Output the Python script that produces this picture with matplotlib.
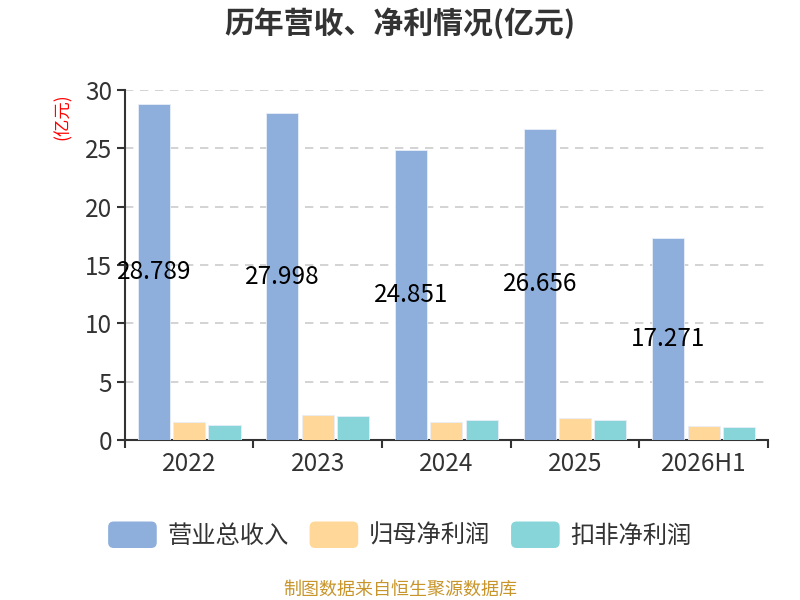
import numpy as np
import matplotlib
matplotlib.use("Agg")
import matplotlib.pyplot as plt
from matplotlib.patches import FancyBboxPatch, Rectangle
from matplotlib.legend_handler import HandlerPatch

plt.rcParams['font.family'] = ['Noto Sans CJK SC', 'DejaVu Sans']

years = ["2022", "2023", "2024", "2025", "2026H1"]
revenue = [28.789, 27.998, 24.851, 26.656, 17.271]
net_profit = [1.57, 2.14, 1.54, 1.89, 1.20]
deducted_profit = [1.29, 2.06, 1.69, 1.71, 1.14]
series_names = ["营业总收入", "归母净利润", "扣非净利润"]
colors = ["#8eaedb", "#ffd899", "#87d5d9"]


class RoundHandler(HandlerPatch):
    def create_artists(self, legend, orig_handle, xdescent, ydescent,
                       width, height, fontsize, trans):
        p = FancyBboxPatch((-xdescent, -ydescent), width, height,
                           boxstyle="round,pad=0,rounding_size=4",
                           facecolor=orig_handle.get_facecolor(),
                           edgecolor="none", transform=trans)
        return [p]


fig = plt.figure(figsize=(8, 6), dpi=100)
ax = fig.add_axes([0.156, 0.2667, 0.804, 0.5833])

x = np.arange(len(years))
w = 0.25
off = 0.275
bars = []
for i, (vals, c) in enumerate(zip([revenue, net_profit, deducted_profit], colors)):
    b = ax.bar(x + (i - 1) * off, vals, width=w, color=c, edgecolor="#e8eef8",
               linewidth=0.6, label=series_names[i], zorder=3)
    bars.append(b)

for xi, v in zip(x, revenue):
    ax.text(xi - off, v / 2, f"{v:.3f}", ha="center", va="center",
            fontsize=17.5, color="black", zorder=4)

ax.set_xlim(-0.5, len(years) - 0.5)
ax.set_ylim(0, 30)
ax.set_yticks(range(0, 31, 5))
ax.set_xticks(x)
ax.set_xticklabels(years)
ax.set_xticks(np.arange(-0.5, len(years), 1), minor=True)
ax.tick_params(axis="x", which="major", length=0, labelsize=17.5,
               labelcolor="#333333", pad=8)
ax.tick_params(axis="x", which="minor", length=6, width=1.5, color="#333333")
ax.tick_params(axis="y", length=6, width=1.5, color="#333333",
               labelsize=17.5, labelcolor="#333333", pad=3)

ax.grid(axis="y", linestyle=(0, (5, 4)), color="#cccccc", linewidth=1.2, zorder=0)
for s in ["top", "right"]:
    ax.spines[s].set_visible(False)
for s in ["left", "bottom"]:
    ax.spines[s].set_color("#333333")
    ax.spines[s].set_linewidth(1.5)

fig.text(0.078, 0.805, "(亿元)", rotation=90, color="red", fontsize=12.5,
         ha="center", va="center")

fig.text(0.5, 0.962, "历年营收、净利情况(亿元)", ha="center", va="center",
         fontsize=21.5, fontweight="bold", color="#333333")

leg = fig.legend(handles=[b.patches[0] for b in bars], labels=series_names,
                 loc="center", bbox_to_anchor=(0.5, 0.108), ncol=3,
                 frameon=False, fontsize=17.5, handlelength=2.0,
                 handleheight=1.3, handletextpad=0.45, columnspacing=0.85,
                 handler_map={Rectangle: RoundHandler()})
for t in leg.get_texts():
    t.set_color("#333333")

fig.text(0.5, 0.018, "制图数据来自恒生聚源数据库", ha="center", va="center",
         fontsize=13, color="#c8952a")

fig.savefig("out.png", dpi=100)
